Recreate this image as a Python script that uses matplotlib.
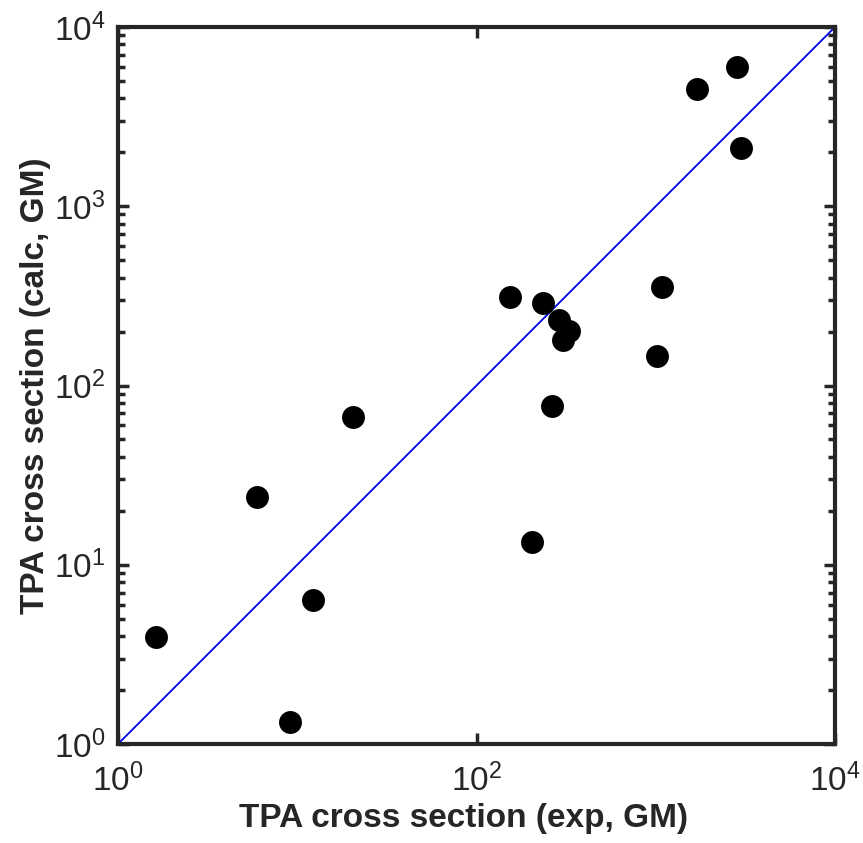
import numpy as np
import matplotlib
matplotlib.use('Agg')
import matplotlib.pyplot as plt
from matplotlib.ticker import LogLocator, NullLocator

plt.rcParams['font.family'] = ['Liberation Sans', 'DejaVu Sans']
plt.rcParams['mathtext.fontset'] = 'custom'
plt.rcParams['mathtext.rm'] = 'Liberation Sans'

# TPA cross sections (GM)
tpa_exp = [1.63, 6.0, 9.1, 12.3, 20.5, 154, 204, 236, 264, 287, 304, 328,
           1010, 1080, 1700, 2840, 2990]
tpa_calc = [3.95, 23.9, 1.32, 6.4, 66.7, 312, 13.4, 287, 76.5, 232, 179, 201,
            146, 354, 4510, 5980, 2110]
diag = [1, 1e4]

dark = '#262626'

fig = plt.figure(figsize=(8.63, 8.43), dpi=100)
ax = fig.add_axes([0.1367, 0.1174, 0.8309, 0.8506])

ax.plot(diag, diag, color='#0000ee', lw=1.3)
ax.plot(tpa_exp, tpa_calc, 'o', color='black', ms=16.5, mew=0)

ax.set_xscale('log')
ax.set_yscale('log')
ax.set_xlim(1, 1e4)
ax.set_ylim(1, 1e4)

ax.xaxis.set_major_locator(LogLocator(base=100))
ax.xaxis.set_minor_locator(NullLocator())
ax.yaxis.set_major_locator(LogLocator(base=10))
ax.yaxis.set_minor_locator(LogLocator(base=10, subs=np.arange(2, 10)))

for s in ax.spines.values():
    s.set_linewidth(3)
    s.set_color(dark)

ax.tick_params(which='both', direction='in', top=True, right=True,
               color=dark, width=2.5, labelsize=24, labelcolor=dark)
ax.tick_params(which='major', length=8, pad=9)
ax.tick_params(which='minor', length=5)
ax.tick_params(axis='x', which='major', pad=14)

ax.set_xlabel('TPA cross section (exp, GM)', fontsize=24, fontweight='bold',
              color=dark, labelpad=2)
ax.set_ylabel('TPA cross section (calc, GM)', fontsize=24, fontweight='bold',
              color=dark, labelpad=2)
ax.xaxis.set_label_coords(0.482, -0.082)

fig.savefig('out.png', dpi=100)
